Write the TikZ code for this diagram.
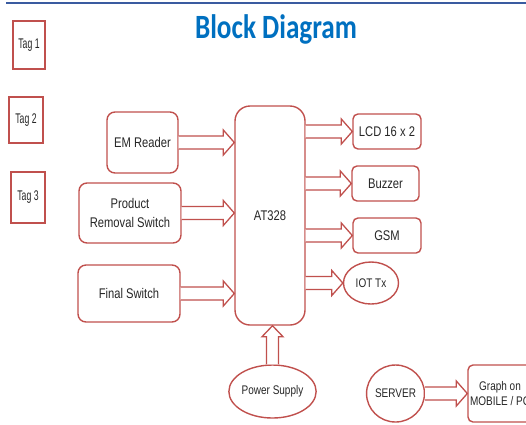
\documentclass[tikz,border=0pt]{standalone}
\usepackage{fontspec}
\usetikzlibrary{calc}
\newfontfamily\boxfont[FakeStretch=0.8]{Liberation Sans}
\newfontfamily\tagfont[FakeStretch=0.62]{Liberation Sans}
\newfontfamily\titlefont[FakeStretch=0.8]{Carlito}
\definecolor{blockred}{HTML}{C0504D}
\definecolor{titleblue}{HTML}{0070C0}
\definecolor{ruleblue}{HTML}{3A5BA0}
\definecolor{labelgray}{HTML}{262626}

\tikzset{
  tagbox/.style={draw=blockred, line width=1.4pt, inner sep=0pt, text=labelgray, font=\tagfont\fontsize{14}{16}\selectfont},
  block/.style={draw=blockred, line width=1.4pt, rounded corners=5pt, inner sep=0pt, align=center, text=labelgray, font=\boxfont\fontsize{14}{19}\selectfont},
  oval/.style={draw=blockred, line width=1.4pt, ellipse, inner sep=0pt, align=center, text=labelgray, font=\boxfont\fontsize{12.5}{15}\selectfont},
  fatarrow/.style={draw=blockred, fill=white, line width=1.3pt, line join=miter}
}

% block arrow, left to right, at the height of the first point
\newcommand{\fatarrowh}[2]{%
  \draw[fatarrow] let \p1=(#1), \p2=(#2) in
    (\x1,\y1+6.5pt) -- (\x2-11pt,\y1+6.5pt) -- (\x2-11pt,\y1+12.5pt) -- (\x2,\y1)
    -- (\x2-11pt,\y1-12.5pt) -- (\x2-11pt,\y1-6.5pt) -- (\x1,\y1-6.5pt);}
% block arrow, pointing up
\newcommand{\fatarrowv}[2]{%
  \draw[fatarrow] let \p1=(#1), \p2=(#2) in
    (\x1-6pt,\y1) -- (\x1-6pt,\y2-11pt) -- (\x1-10.5pt,\y2-11pt) -- (\x1,\y2)
    -- (\x1+10.5pt,\y2-11pt) -- (\x1+6pt,\y2-11pt) -- (\x1+6pt,\y1);}

\usetikzlibrary{shapes.geometric}

\begin{document}
\begin{tikzpicture}[x=1pt, y=-1pt]
  \useasboundingbox (0,0) rectangle (526,424);
  \clip (0,0) rectangle (526,424);

  % heading
  \draw[ruleblue, line width=1.6pt] (6,3) -- (526,3);
  \node[anchor=base, text=titleblue, font=\titlefont\bfseries\fontsize{34}{36}\selectfont, inner sep=0pt] (title) at (276,38) {Block Diagram};

  % tags
  \node[tagbox, minimum width=32pt, minimum height=48pt] (tag1) at (29,45) {Tag 1};
  \node[tagbox, minimum width=34pt, minimum height=46pt] (tag2) at (26,120) {Tag 2};
  \node[tagbox, minimum width=34pt, minimum height=51pt] (tag3) at (28,197.5) {Tag 3};

  % inputs
  \node[block, rounded corners=8pt, minimum width=71pt, minimum height=61pt] (em) at (142.5,142.5) {EM Reader};
  \node[block, rounded corners=8pt, minimum width=102pt, minimum height=60pt] (prs) at (130,213) {Product\\Removal Switch};
  \node[block, rounded corners=8pt, minimum width=102pt, minimum height=57pt] (fsw) at (129,293.5) {Final Switch};

  % controller
  \node[block, rounded corners=15pt, minimum width=70pt, minimum height=219pt] (mcu) at (270,215.5) {AT328};

  % outputs
  \node[block, minimum width=68pt, minimum height=35pt] (lcd) at (387,131.5) {LCD 16 x 2};
  \node[block, minimum width=67pt, minimum height=35pt] (buz) at (385.5,183.5) {Buzzer};
  \node[block, minimum width=68pt, minimum height=35pt] (gsm) at (387,235.5) {GSM};
  \node[oval, minimum width=55pt, minimum height=42pt] (iot) at (371,283) {IOT Tx};

  % supply and server side
  \node[oval, minimum width=85pt, minimum height=53pt] (pwr) at (272.5,391.5) {Power Supply};
  \node[oval, minimum width=50pt, minimum height=57pt] (srv) at (395.5,393.5) {SERVER};
  \node[block, minimum width=64pt, minimum height=57pt, font=\boxfont\fontsize{12.5}{15}\selectfont] (graph) at (500,393.5) {Graph on\\MOBILE / PC};

  \fatarrowh{em.east}{mcu.west}
  \fatarrowh{prs.east}{mcu.west}
  \fatarrowh{fsw.east}{mcu.west}
  \fatarrowh{mcu.east |- lcd.west}{lcd.west}
  \fatarrowh{mcu.east |- buz.west}{buz.west}
  \fatarrowh{mcu.east |- gsm.west}{gsm.west}
  \fatarrowh{mcu.east |- iot.west}{iot.west}
  \fatarrowv{pwr.north}{mcu.south}
  \fatarrowh{srv.east}{graph.west}
\end{tikzpicture}
\end{document}
